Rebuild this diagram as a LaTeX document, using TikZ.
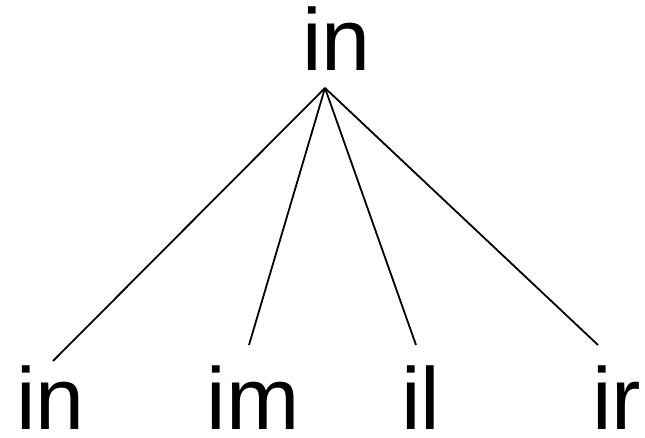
\documentclass[tikz,border=0pt]{standalone}
\usepackage{fontspec}
\setmainfont{Liberation Sans}
\begin{document}
\begin{tikzpicture}[x=1pt,y=-1pt,
  lbl/.style={inner sep=0pt,outer sep=0pt,font=\fontsize{88}{100}\selectfont},
  edge/.style={line width=1.8pt,line cap=butt}]
\useasboundingbox (0,0) rectangle (645,438);
\node[lbl,anchor=base] (root) at (336.5,71) {in};
\node[lbl,anchor=base] (c1) at (50.5,429) {in};
\node[lbl,anchor=base] (c2) at (253,429) {im};
\node[lbl,anchor=base] (c3) at (421,429) {il};
\node[lbl,anchor=base west] (c4) at (592,429) {ir};
\coordinate (apex) at (325,88);
\coordinate (e1) at (53,361);
\coordinate (e2) at (249,345);
\coordinate (e3) at (416,345);
\coordinate (e4) at (598,345);
\draw[edge] (apex) -- (e1);
\draw[edge] (apex) -- (e2);
\draw[edge] (apex) -- (e3);
\draw[edge] (apex) -- (e4);
\end{tikzpicture}
\end{document}
